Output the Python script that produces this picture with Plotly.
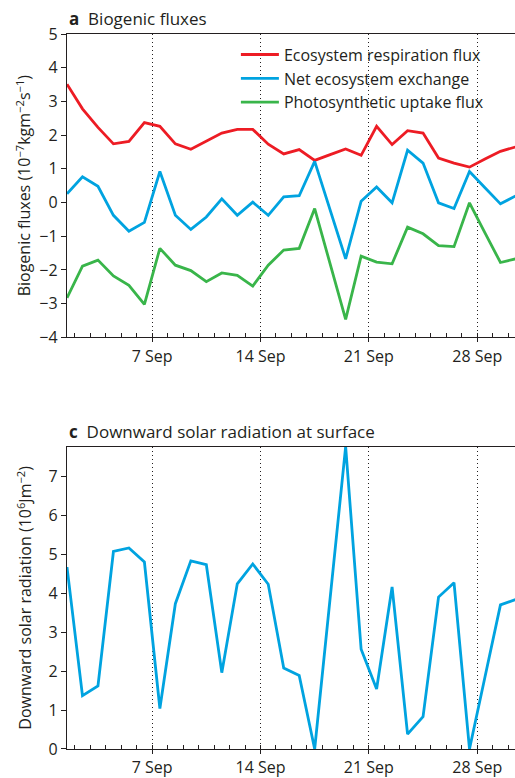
import plotly.graph_objects as go

# ---- data (daily values, plotted at mid-day) ----
day = [d + 0.5 for d in range(1, 31)]
resp = [3.51, 2.78, 2.23, 1.74, 1.81, 2.37, 2.26, 1.74, 1.58, 1.81,
        2.06, 2.17, 2.17, 1.73, 1.44, 1.57, 1.25, 1.42, 1.59, 1.40,
        2.26, 1.72, 2.13, 2.06, 1.32, 1.17, 1.05, 1.29, 1.52, 1.65]
nee = [0.26, 0.76, 0.48, -0.38, -0.85, -0.59, 0.92, -0.38, -0.80, -0.43,
       0.11, -0.38, 0.01, -0.38, 0.17, 0.20, 1.22, -0.22, -1.67, 0.04,
       0.46, -0.01, 1.55, 1.17, -0.01, -0.18, 0.92, 0.44, -0.04, 0.20]
photo = [-2.83, -1.89, -1.71, -2.18, -2.46, -3.02, -1.36, -1.86, -2.02, -2.35,
         -2.09, -2.16, -2.48, -1.86, -1.41, -1.36, -0.18, -1.82, -3.47, -1.59,
         -1.77, -1.82, -0.73, -0.93, -1.28, -1.31, -0.01, -0.90, -1.78, -1.67]
solar = [4.67, 1.37, 1.62, 5.07, 5.16, 4.80, 1.04, 3.73, 4.83, 4.73,
         1.96, 4.24, 4.75, 4.23, 2.08, 1.89, 0.00, 3.88, 7.76, 2.56,
         1.54, 4.16, 0.38, 0.83, 3.90, 4.27, 0.00, 1.85, 3.70, 3.84]

RED = "#ED1C24"
BLUE = "#00A3E0"
GREEN = "#39B54A"
INK = "#231F20"
FONT = "Open Sans"
LW = 2.8

fig = go.Figure()
fig.add_trace(go.Scatter(x=day, y=resp, mode="lines", name="Ecosystem respiration flux",
                         line=dict(color=RED, width=LW), xaxis="x", yaxis="y"))
fig.add_trace(go.Scatter(x=day, y=nee, mode="lines", name="Net ecosystem exchange",
                         line=dict(color=BLUE, width=LW), xaxis="x", yaxis="y"))
fig.add_trace(go.Scatter(x=day, y=photo, mode="lines", name="Photosynthetic uptake flux",
                         line=dict(color=GREEN, width=LW), xaxis="x", yaxis="y"))
fig.add_trace(go.Scatter(x=day, y=solar, mode="lines", showlegend=False,
                         line=dict(color=BLUE, width=LW), xaxis="x2", yaxis="y2"))

xcommon = dict(range=[1.5, 30.44], tickmode="linear", tick0=0, dtick=7, ticksuffix=" Sep",
               showline=True, linecolor=INK, linewidth=1.3, mirror=True,
               ticks="outside", ticklen=4, tickcolor=INK, tickwidth=1.3,
               showgrid=True, gridcolor=INK, gridwidth=1, griddash="1px,3px",
               minor=dict(ticks="inside", ticklen=4, dtick=1, tick0=0, tickcolor=INK,
                          tickwidth=1.2, showgrid=False),
               zeroline=False, tickfont=dict(size=16, color=INK, family=FONT))
ycommon = dict(showline=True, linecolor=INK, linewidth=1.3,
               ticks="outside", ticklen=5, tickcolor=INK, tickwidth=1.3,
               showgrid=False, zeroline=False, dtick=1, tickmode="linear",
               tickfont=dict(size=16, color=INK, family=FONT))

fig.update_layout(
    width=515, height=778,
    margin=dict(l=67, r=0, t=34, b=27),
    paper_bgcolor="white", plot_bgcolor="white",
    font=dict(family=FONT, color=INK, size=16),
    xaxis=dict(**xcommon, anchor="y"),
    yaxis=dict(**ycommon, range=[-4, 5], tick0=0, domain=[0.5758, 1],
               title=dict(text="Biogenic fluxes (10<sup>−7</sup>kgm<sup>−2</sup>s<sup>−1</sup>)",
                          font=dict(size=16, color=INK, family=FONT), standoff=4)),
    xaxis2=dict(**xcommon, anchor="y2"),
    yaxis2=dict(**ycommon, range=[0, 7.76], tick0=0, domain=[0, 0.4228],
                title=dict(text="Downward solar radiation (10<sup>6</sup>Jm<sup>−2</sup>)",
                           font=dict(size=16, color=INK, family=FONT), standoff=12)),
    legend=dict(x=0.377, y=0.995, xanchor="left", yanchor="top", xref="paper", yref="paper",
                bgcolor="rgba(0,0,0,0)", font=dict(size=16, color=INK, family=FONT),
                tracegroupgap=0, itemwidth=38),
    showlegend=True,
)

fig.add_annotation(text="<b>a</b>  Biogenic fluxes", xref="paper", yref="paper",
                   x=0, y=1.0223, xanchor="left", yanchor="middle", showarrow=False,
                   font=dict(size=17, color=INK, family=FONT))
fig.add_annotation(text="<b>c</b>  Downward solar radiation at surface", xref="paper", yref="paper",
                   x=0, y=0.4447, xanchor="left", yanchor="middle", showarrow=False,
                   font=dict(size=17, color=INK, family=FONT))

fig.write_html("out.html", config={"displayModeBar": False},
               post_script="document.body.style.margin='0';document.body.style.overflow='hidden';")
